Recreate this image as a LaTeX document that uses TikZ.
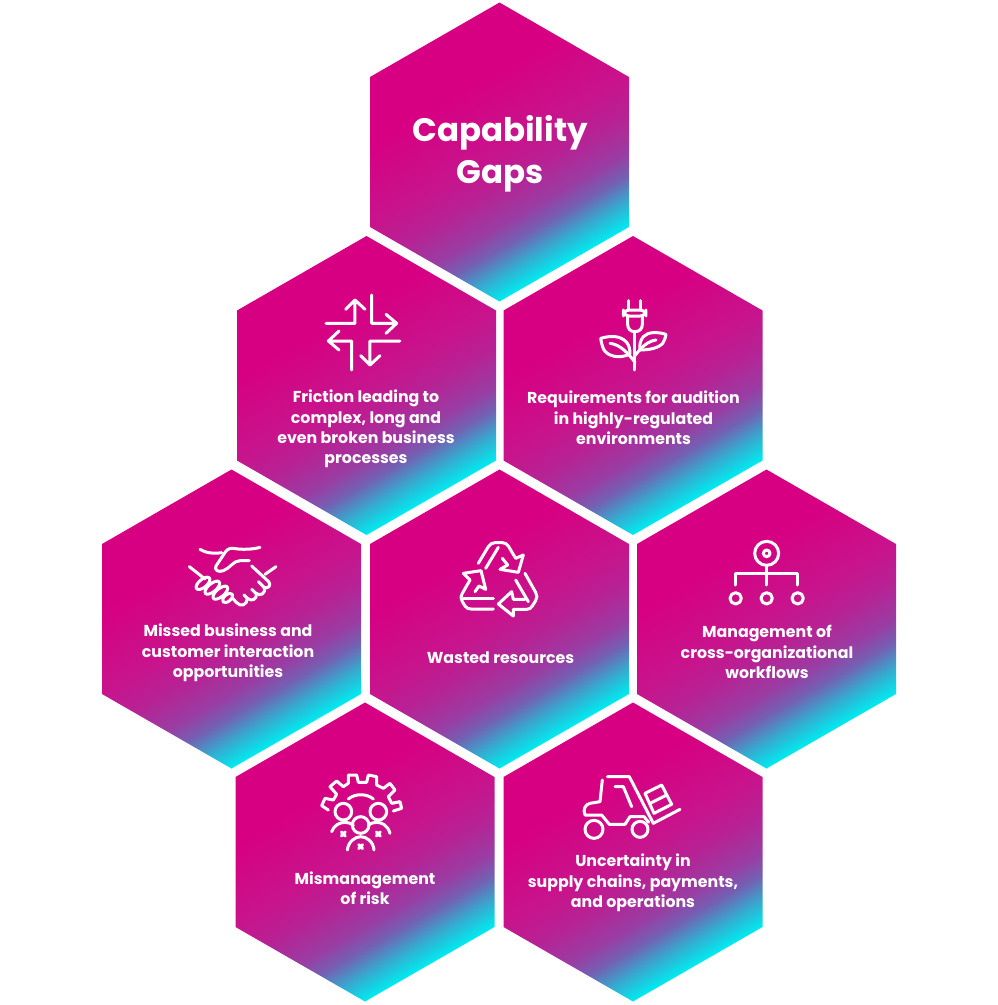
\documentclass[tikz,border=0pt]{standalone}
\usepackage{fontspec}
\setmainfont{Poppins}
\pgfdeclareverticalshading{hexg}{100bp}{
 rgb(0bp)=(0.843,0,0.51);
 rgb(41bp)=(0.843,0,0.51);
 rgb(50bp)=(0.78,0.08,0.55);
 rgb(53.75bp)=(0.72,0.13,0.58);
 rgb(58.1bp)=(0.60,0.24,0.64);
 rgb(60.6bp)=(0.45,0.38,0.70);
 rgb(63.5bp)=(0.20,0.68,0.82);
 rgb(66.25bp)=(0,0.92,0.94);
 rgb(100bp)=(0,0.92,0.94)}
\tikzset{
 iconline/.style={draw=white,line width=3pt,line cap=round,line join=round},
 thinlab/.style={text=white,align=center,inner sep=0pt,font=\bfseries\fontsize{15.8}{20.4}\selectfont},
 titlelab/.style={text=white,align=center,inner sep=0pt,font=\bfseries\fontsize{32.5}{42}\selectfont}
}
\newcommand\hexcell[2]{%
 \begin{scope}[shift={(#1,#2)}]
 \clip (0,-149.5)--(129.5,-75)--(129.5,75)--(0,149.5)--(-129.5,75)--(-129.5,-75)--cycle;
 \shade[shading=hexg,shading angle=-150] (-200,-200) rectangle (200,200);
 \end{scope}}
\begin{document}
\begin{tikzpicture}[x=1pt,y=-1pt]
\useasboundingbox (0,0) rectangle (998,1005);
\hexcell{499.5}{152}
\hexcell{366.5}{385.5}
\hexcell{633}{385.5}
\hexcell{231.5}{619}
\hexcell{499.5}{619}
\hexcell{766.5}{619}
\hexcell{365}{852}
\hexcell{633}{852}
\node[titlelab] (title) at (500,154) {Capability\\Gaps};
\node[thinlab] (friction) at (366,429) {Friction leading to\\complex, long and\\even broken business\\processes};
\node[thinlab] (requirements) at (633.5,418) {Requirements for audition\\in highly-regulated\\environments};
\node[thinlab] (missed) at (228,653) {Missed business and\\customer interaction\\opportunities};
\node[thinlab] (wasted) at (500.5,657.5) {Wasted resources};
\node[thinlab] (management) at (767,652) {Management of\\cross-organizational\\workflows};
\node[thinlab] (mismanagement) at (365,888) {Mismanagement\\of risk};
\node[thinlab] (uncertainty) at (633,883) {Uncertainty in\\supply chains, payments,\\and operations};
% arrows
\begin{scope}[iconline,shift={(300,280)},scale=.3333]
\draw (78,130)--(165,130)--(165,60) (137,88)--(165,60)--(195,88);
\draw (215,45)--(215,130)--(290,130) (258,103)--(290,130)--(258,160);
\draw (155,270)--(155,183)--(85,183) (117,153)--(85,183)--(117,210);
\draw (300,183)--(210,183)--(210,255) (182,227)--(210,255)--(240,227);
\end{scope}
% plant
\begin{scope}[iconline,shift={(580,285)},scale=.3333]
\draw (147,47)--(147,75) (183,47)--(183,75);
\draw[rounded corners=6] (130,75) rectangle (198,93);
\draw (143,93)--(143,118) .. controls (143,132) and (152,140) .. (165,140) .. controls (178,140) and (187,132) .. (187,118)--(187,93);
\draw (165,140)--(165,255);
\draw (62,160) .. controls (90,152) and (120,150) .. (140,172) .. controls (148,182) and (150,195) .. (150,207) .. controls (120,222) and (85,215) .. (72,195) .. controls (66,183) and (64,172) .. (62,160)--cycle;
\draw (90,175) .. controls (120,178) and (145,205) .. (165,232);
\draw (258,148) .. controls (230,140) and (205,140) .. (190,155) .. controls (180,167) and (178,182) .. (180,195) .. controls (205,195) and (235,190) .. (248,175) .. controls (254,167) and (256,158) .. (258,148)--cycle;
\draw (228,165) .. controls (205,168) and (185,185) .. (165,212);
\end{scope}
% handshake
\begin{scope}[iconline,shift={(170,530)},scale=.3333]
\draw (90,58) .. controls (105,68) and (130,72) .. (155,68);
\draw (270,52) .. controls (250,58) and (215,60) .. (190,55) .. controls (175,53) and (168,62) .. (160,75) -- (138,108) .. controls (132,120) and (145,128) .. (160,122) .. controls (180,115) and (190,92) .. (210,92) -- (238,92);
\draw (58,110)--(105,147);
\draw (318,110)--(285,133);
\draw (245,108)--(296,155) .. controls (305,165) and (295,178) .. (282,172) -- (265,155);
\draw (282,172) .. controls (290,190) and (270,200) .. (258,190) -- (245,178);
\draw (258,190) .. controls (262,210) and (245,215) .. (232,205) -- (222,195);
\draw (232,205) .. controls (232,225) and (212,232) .. (200,218) -- (188,205);
\draw[rotate around={40:(99,160)}] (99,160) ellipse [x radius=25,y radius=12];
\draw[rotate around={40:(127,173)}] (127,173) ellipse [x radius=27,y radius=12];
\draw[rotate around={40:(151,188)}] (151,188) ellipse [x radius=27,y radius=12];
\draw[rotate around={40:(173,204)}] (173,204) ellipse [x radius=18,y radius=10];
\end{scope}
% recycle
\begin{scope}[iconline,shift={(445,530)},scale=.3333]
\draw (100,100)--(130,50) .. controls (135,42) and (142,38) .. (150,38)--(172,38) .. controls (180,38) and (186,42) .. (190,48)--(212,85)--(235,75)--(220,127)--(165,118)--(188,105)--(172,85);
\draw (160,52)--(122,115);
\draw (75,150)--(55,130)--(108,122)--(122,178)--(102,168)--(90,185);
\draw (75,150)--(52,190) .. controls (47,200) and (47,208) .. (52,215)--(60,228) .. controls (65,235) and (70,237) .. (78,237)--(145,237);
\draw (55,205)--(145,205);
\draw (240,130)--(272,187) .. controls (277,196) and (277,204) .. (272,212)--(262,228) .. controls (258,235) and (252,238) .. (245,238)--(205,238)--(205,258)--(160,222)--(200,185)--(205,208)--(240,208);
\draw (212,150)--(250,215);
\end{scope}
% org chart
\begin{scope}[iconline,shift={(715,530)},scale=.3333]
\draw (155,70) circle [radius=36];
\draw (155,70) circle [radius=10];
\draw (155,106)--(155,165);
\draw (62,165)--(62,130)--(248,130)--(248,165);
\draw (62,205) circle [radius=17];
\draw (155,205) circle [radius=17];
\draw (248,205) circle [radius=17];
\end{scope}
% gear and people
\begin{scope}[iconline,shift={(310,765)},scale=.3333]
\draw (55,135)--(35,122)--(45,100)--(70,105)--(80,88)--(60,65)--(80,48)--(100,65)--(115,55)--(115,30)--(140,30)--(145,52)--(170,52)--(175,30)--(200,35)--(200,60)--(220,70)--(240,55)--(255,75)--(235,95)--(245,115)--(270,110)--(275,130)--(250,138);
\draw (115,102) .. controls (135,85) and (170,85) .. (190,102);
\draw (100,140) circle [radius=25];
\draw (205,140) circle [radius=25];
\draw (152,180) circle [radius=25];
\draw (65,200) .. controls (72,180) and (90,172) .. (105,172) .. controls (115,172) and (122,175) .. (130,180);
\draw (240,205) .. controls (233,180) and (215,172) .. (200,172) .. controls (190,172) and (182,175) .. (175,180);
\draw (112,255) .. controls (115,230) and (135,215) .. (152,215) .. controls (170,215) and (190,230) .. (192,255);
\draw (94,201)--(106,213) (106,201)--(94,213);
\draw (199,201)--(211,213) (211,201)--(199,213);
\draw (146,239)--(158,251) (158,239)--(146,251);
\end{scope}
% forklift
\begin{scope}[iconline,shift={(570,765)},scale=.3333]
\draw (112,35)--(178,35)--(250,175)--(330,133);
\draw (97,45)--(90,110)--(60,115) .. controls (45,118) and (38,135) .. (45,150)--(95,150)--(118,178)--(165,178)--(180,155)--(222,155)--(236,172);
\draw (72,193) circle [radius=27];
\draw (210,193) circle [radius=24];
\draw (135,65)--(160,65)--(185,125);
\draw (225,85)--(275,60)--(305,118)--(252,145)--cycle;
\draw (240,115)--(290,90);
\end{scope}
\end{tikzpicture}
\end{document}
